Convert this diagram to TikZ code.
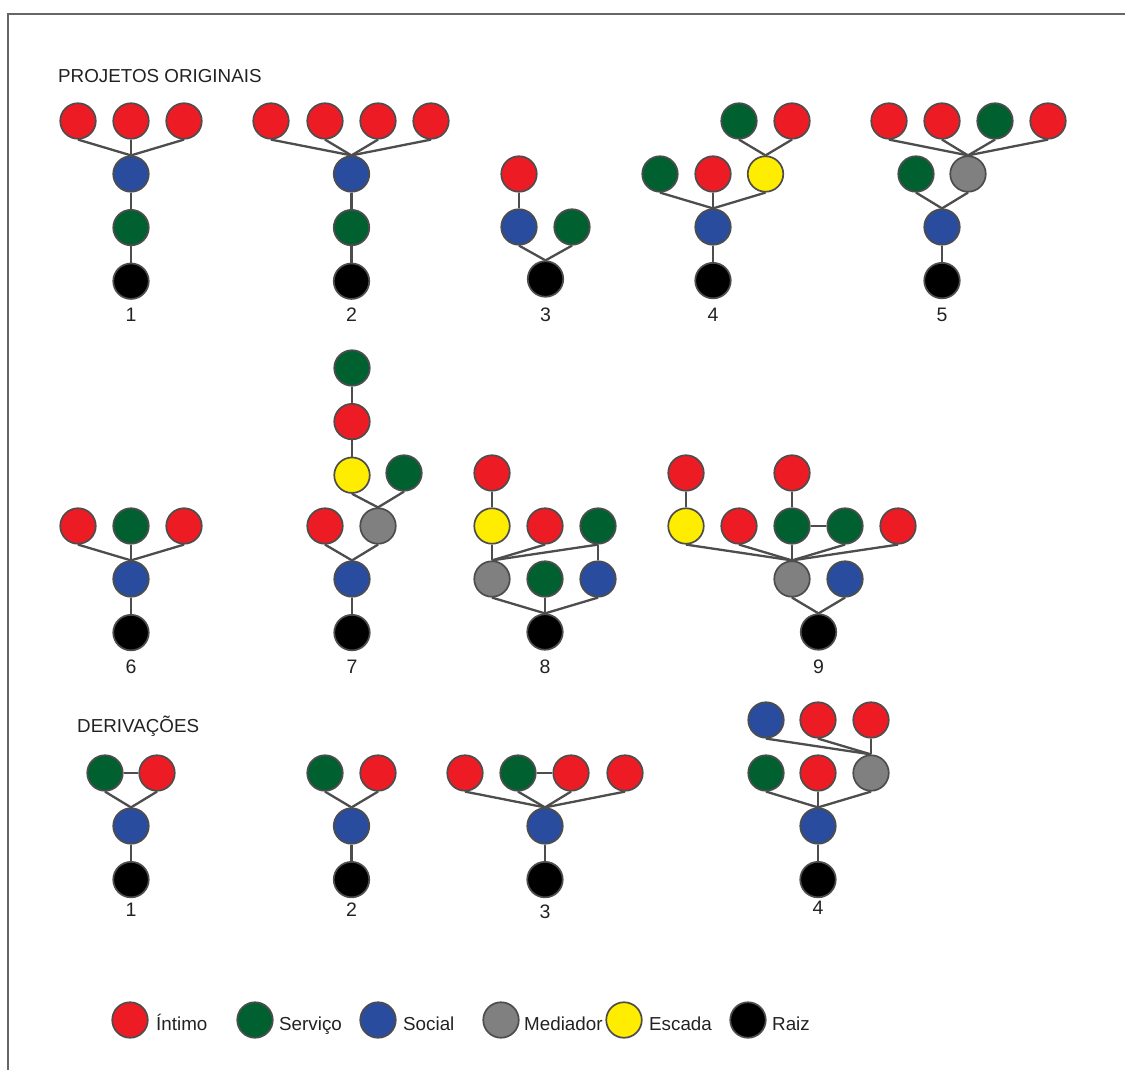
\documentclass[tikz,border=0pt]{standalone}
\usepackage{fontspec}
\setmainfont{Liberation Sans}
\usepackage{tikz}
\usetikzlibrary{positioning}
\usepackage{xcolor}
\definecolor{ntmred}{HTML}{ED1C24}
\definecolor{srvgreen}{HTML}{00602F}
\definecolor{socblue}{HTML}{2A4C9E}
\definecolor{medgray}{HTML}{808080}
\definecolor{escyellow}{HTML}{FFED00}
\definecolor{edgegray}{HTML}{4D4D4D}
\definecolor{txtgray}{HTML}{222222}

\begin{document}
\begin{tikzpicture}[x=1pt, y=-1pt, node distance=16.4pt,
    every node/.style={font=\fontsize{18.8}{21}\selectfont, text=txtgray},
    dot/.style={circle, draw=edgegray, line width=1.7pt, minimum size=35.5pt, inner sep=0pt},
    ntm/.style={dot, fill=ntmred},
    srv/.style={dot, fill=srvgreen},
    soc/.style={dot, fill=socblue},
    med/.style={dot, fill=medgray},
    esc/.style={dot, fill=escyellow},
    raiz/.style={dot, fill=black},
    num/.style={inner sep=0pt, font=\fontsize{19.5}{20}\selectfont},
    head/.style={inner sep=0pt, anchor=base west},
    link/.style={draw=edgegray, line width=2.3pt}]

    \useasboundingbox (0,0) rectangle (1125,1070);
    \draw[draw=black!60, line width=2pt] (8,1071) -- (8,14) -- (1126,14);

    \node[head] (orig) at (58,82.5) {PROJETOS ORIGINAIS};

    \node[ntm] (a1) at (78,121) {};
    \node[ntm] (a2) at (131,121) {};
    \node[ntm] (a3) at (184,121) {};
    \node[soc] (a4) at (131,174) {};
    \node[srv, below=of a4] (a5) {};
    \node[raiz, below=of a5] (a6) {};
    \node[num] (n1) at (131,315) {1};
    \draw[link] (a1.south) -- (a4.north);
    \draw[link] (a2.south) -- (a4.north);
    \draw[link] (a3.south) -- (a4.north);
    \draw[link] (a4) -- (a5);
    \draw[link] (a5) -- (a6);

    \node[ntm] (b1) at (271,121) {};
    \node[ntm] (b2) at (325,121) {};
    \node[ntm] (b3) at (378,121) {};
    \node[ntm] (b4) at (431,121) {};
    \node[soc] (b5) at (351.5,174) {};
    \node[srv, below=of b5] (b6) {};
    \node[raiz, below=of b6] (b7) {};
    \node[num] (n2) at (351.5,315) {2};
    \draw[link] (b1.south) -- (b5.north);
    \draw[link] (b2.south) -- (b5.north);
    \draw[link] (b3.south) -- (b5.north);
    \draw[link] (b4.south) -- (b5.north);
    \draw[link] (b5) -- (b6);
    \draw[link] (b6) -- (b7);

    \node[ntm] (c1) at (519,174) {};
    \node[soc] (c2) at (519,227) {};
    \node[srv] (c3) at (572,227) {};
    \node[raiz] (c4) at (545.5,279) {};
    \node[num] (n3) at (545.5,315) {3};
    \draw[link] (c1) -- (c2);
    \draw[link] (c2.south) -- (c4.north);
    \draw[link] (c3.south) -- (c4.north);

    \node[srv] (d1) at (739,121) {};
    \node[ntm] (d2) at (792,121) {};
    \node[srv] (d3) at (660,174) {};
    \node[ntm] (d4) at (713,174) {};
    \node[esc] (d5) at (765.5,174) {};
    \node[soc] (d6) at (713,227) {};
    \node[raiz, below=of d6] (d7) {};
    \node[num] (n4) at (713,315) {4};
    \draw[link] (d1.south) -- (d5.north);
    \draw[link] (d2.south) -- (d5.north);
    \draw[link] (d3.south) -- (d6.north);
    \draw[link] (d4.south) -- (d6.north);
    \draw[link] (d5.south) -- (d6.north);
    \draw[link] (d6) -- (d7);

    \node[ntm] (e1) at (889,121) {};
    \node[ntm] (e2) at (942,121) {};
    \node[srv] (e3) at (995,121) {};
    \node[ntm] (e4) at (1048,121) {};
    \node[srv] (e5) at (916,174) {};
    \node[med] (e6) at (968,174) {};
    \node[soc] (e7) at (942,227) {};
    \node[raiz, below=of e7] (e8) {};
    \node[num] (n5) at (942,315) {5};
    \draw[link] (e1.south) -- (e6.north);
    \draw[link] (e2.south) -- (e6.north);
    \draw[link] (e3.south) -- (e6.north);
    \draw[link] (e4.south) -- (e6.north);
    \draw[link] (e5.south) -- (e7.north);
    \draw[link] (e6.south) -- (e7.north);
    \draw[link] (e7) -- (e8);

    \node[ntm] (f1) at (78,526) {};
    \node[srv] (f2) at (131,526) {};
    \node[ntm] (f3) at (184,526) {};
    \node[soc] (f4) at (131,579) {};
    \node[raiz, below=of f4] (f5) {};
    \node[num] (n6) at (131,667) {6};
    \draw[link] (f1.south) -- (f4.north);
    \draw[link] (f2.south) -- (f4.north);
    \draw[link] (f3.south) -- (f4.north);
    \draw[link] (f4) -- (f5);

    \node[srv] (g1) at (352,368) {};
    \node[ntm, below=of g1] (g2) {};
    \node[esc, below=of g2] (g3) {};
    \node[srv] (g4) at (404,473) {};
    \node[ntm] (g5) at (325,526) {};
    \node[med] (g6) at (378,526) {};
    \node[soc] (g7) at (352,579) {};
    \node[raiz, below=of g7] (g8) {};
    \node[num] (n7) at (352,667) {7};
    \draw[link] (g1) -- (g2);
    \draw[link] (g2) -- (g3);
    \draw[link] (g3.south) -- (g6.north);
    \draw[link] (g4.south) -- (g6.north);
    \draw[link] (g5.south) -- (g7.north);
    \draw[link] (g6.south) -- (g7.north);
    \draw[link] (g7) -- (g8);

    \node[ntm] (h1) at (492,473) {};
    \node[esc] (h2) at (492,526) {};
    \node[ntm] (h3) at (545,526) {};
    \node[srv] (h4) at (598,526) {};
    \node[med] (h5) at (492,579) {};
    \node[srv] (h6) at (545,579) {};
    \node[soc] (h7) at (598,579) {};
    \node[raiz] (h8) at (545,632) {};
    \node[num] (n8) at (545,667) {8};
    \draw[link] (h1) -- (h2);
    \draw[link] (h2) -- (h5);
    \draw[link] (h3.south) -- (h5.north);
    \draw[link] (h4.south) -- (h5.north);
    \draw[link] (h4) -- (h7);
    \draw[link] (h5.south) -- (h8.north);
    \draw[link] (h6.south) -- (h8.north);
    \draw[link] (h7.south) -- (h8.north);

    \node[ntm] (k1) at (686,473) {};
    \node[ntm] (k2) at (792,473) {};
    \node[esc] (k3) at (686,526) {};
    \node[ntm] (k4) at (739,526) {};
    \node[srv] (k5) at (792,526) {};
    \node[srv] (k6) at (845,526) {};
    \node[ntm] (k7) at (898,526) {};
    \node[med] (k8) at (792,579) {};
    \node[soc] (k9) at (845,579) {};
    \node[raiz] (k10) at (818.5,632) {};
    \node[num] (n9) at (818.5,667) {9};
    \draw[link] (k1) -- (k3);
    \draw[link] (k2) -- (k5);
    \draw[link] (k5) -- (k6);
    \draw[link] (k3.south) -- (k8.north);
    \draw[link] (k4.south) -- (k8.north);
    \draw[link] (k5.south) -- (k8.north);
    \draw[link] (k6.south) -- (k8.north);
    \draw[link] (k7.south) -- (k8.north);
    \draw[link] (k8.south) -- (k10.north);
    \draw[link] (k9.south) -- (k10.north);

    \node[head] (deriv) at (77,732.5) {DERIVAÇÕES};

    \node[srv] (p1) at (105,773) {};
    \node[ntm] (p2) at (157,773) {};
    \node[soc] (p3) at (131,826) {};
    \node[raiz, below=of p3] (p4) {};
    \node[num] (m1) at (131,910) {1};
    \draw[link] (p1) -- (p2);
    \draw[link] (p1.south) -- (p3.north);
    \draw[link] (p2.south) -- (p3.north);
    \draw[link] (p3) -- (p4);

    \node[srv] (q1) at (325,773) {};
    \node[ntm] (q2) at (378,773) {};
    \node[soc] (q3) at (351.5,826) {};
    \node[raiz, below=of q3] (q4) {};
    \node[num] (m2) at (351.5,910) {2};
    \draw[link] (q1.south) -- (q3.north);
    \draw[link] (q2.south) -- (q3.north);
    \draw[link] (q3) -- (q4);

    \node[ntm] (s1) at (465,773) {};
    \node[srv] (s2) at (518,773) {};
    \node[ntm] (s3) at (571,773) {};
    \node[ntm] (s4) at (625,773) {};
    \node[soc] (s5) at (545,826) {};
    \node[raiz, below=of s5] (s6) {};
    \node[num] (m3) at (545,912) {3};
    \draw[link] (s2) -- (s3);
    \draw[link] (s1.south) -- (s5.north);
    \draw[link] (s2.south) -- (s5.north);
    \draw[link] (s3.south) -- (s5.north);
    \draw[link] (s4.south) -- (s5.north);
    \draw[link] (s5) -- (s6);

    \node[soc] (t1) at (766,720) {};
    \node[ntm] (t2) at (818,720) {};
    \node[ntm] (t3) at (871,720) {};
    \node[srv] (t4) at (766,773) {};
    \node[ntm] (t5) at (818,773) {};
    \node[med] (t6) at (871,773) {};
    \node[soc] (t7) at (818,826) {};
    \node[raiz, below=of t7] (t8) {};
    \node[num] (m4) at (818,908) {4};
    \draw[link] (t1.south) -- (t6.north);
    \draw[link] (t2.south) -- (t6.north);
    \draw[link] (t3) -- (t6);
    \draw[link] (t4.south) -- (t7.north);
    \draw[link] (t5.south) -- (t7.north);
    \draw[link] (t6.south) -- (t7.north);
    \draw[link] (t7) -- (t8);

    \node[ntm] (lgA) at (130,1020) {};
    \node[head] (txA) at (156,1030) {Íntimo};
    \node[srv] (lgB) at (255,1020) {};
    \node[head] (txB) at (279,1030) {Serviço};
    \node[soc] (lgC) at (378,1020) {};
    \node[head] (txC) at (403,1030) {Social};
    \node[med] (lgD) at (501,1020) {};
    \node[head] (txD) at (524,1030) {Mediador};
    \node[esc] (lgE) at (624,1020) {};
    \node[head] (txE) at (649,1030) {Escada};
    \node[raiz] (lgF) at (748,1020) {};
    \node[head] (txF) at (772,1030) {Raiz};
\end{tikzpicture}
\end{document}
